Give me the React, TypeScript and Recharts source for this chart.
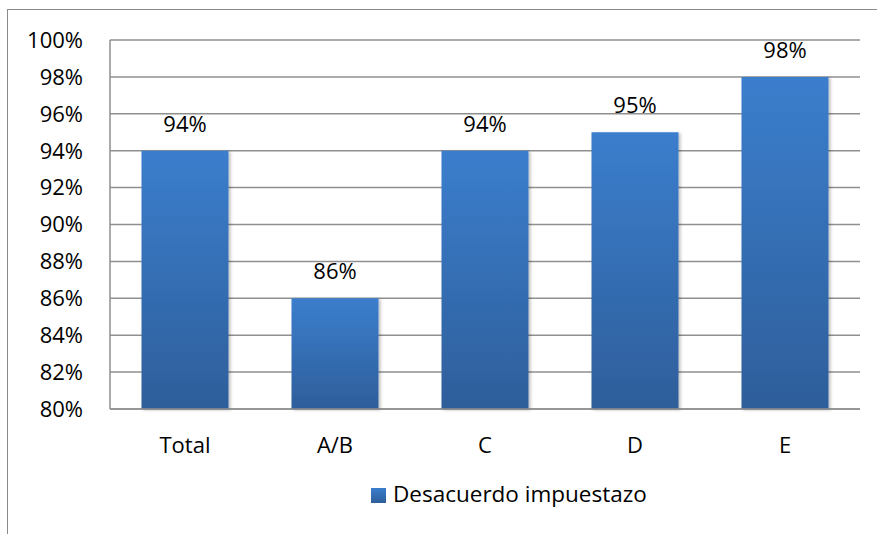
import {
  BarChart,
  Bar,
  XAxis,
  YAxis,
  CartesianGrid,
  Legend,
  LabelList,
} from "recharts";

const categories = ["Total", "A/B", "C", "D", "E"];
const desacuerdo = [94, 86, 94, 95, 98];
const yTicks = [80, 82, 84, 86, 88, 90, 92, 94, 96, 98, 100];
const seriesName = "Desacuerdo impuestazo";

const data = categories.map((cat, i) => ({ cat, value: desacuerdo[i] }));

const FONT = "'Open Sans', 'Liberation Sans', sans-serif";
const GRID = "#8f8f8f";
const pct = (v: number) => `${v}%`;

export default function App() {
  return (
    <div
      style={{
        position: "absolute",
        left: 0,
        top: 0,
        width: 877,
        height: 534,
        overflow: "hidden",
        background: "#fff",
        fontFamily: FONT,
      }}
    >
      <div
        style={{
          position: "absolute",
          left: 7,
          top: 9,
          width: 920,
          height: 600,
          border: "1.5px solid #8a8a8a",
        }}
      />
      <BarChart
        width={877}
        height={534}
        data={data}
        margin={{ top: 40, right: 17, left: 0, bottom: 34 }}
        barCategoryGap="21%"
        style={{ position: "absolute", left: 0, top: 0 }}
      >
        <defs>
          <linearGradient id="barGrad" x1="0" y1="0" x2="0" y2="1">
            <stop offset="0%" stopColor="#3b7ecd" />
            <stop offset="100%" stopColor="#2e5e9a" />
          </linearGradient>
          <filter id="barShadow" x="-10%" y="-10%" width="130%" height="130%">
            <feDropShadow dx="2" dy="1" stdDeviation="1.5" floodColor="#000" floodOpacity="0.25" />
          </filter>
        </defs>
        <CartesianGrid vertical={false} stroke={GRID} strokeWidth={1.5} />
        <XAxis
          dataKey="cat"
          height={60}
          tickLine={false}
          tickSize={0}
          tickMargin={28}
          stroke={GRID}
          strokeWidth={1.5}
          tick={{ fill: "#000", fontSize: 22, fontFamily: FONT }}
        />
        <YAxis
          width={110}
          domain={[80, 100]}
          ticks={yTicks}
          tickFormatter={pct}
          tickLine={false}
          tickSize={0}
          tickMargin={27}
          stroke={GRID}
          strokeWidth={1.5}
          interval={0}
          tick={{ fill: "#000", fontSize: 22, fontFamily: FONT }}
        />
        <Legend
          iconType="square"
          iconSize={15}
          wrapperStyle={{ top: 478, left: 371, width: "auto", fontSize: 22.5, fontFamily: FONT }}
          formatter={(v) => <span style={{ color: "#000", marginLeft: 3 }}>{v}</span>}
        />
        <Bar
          dataKey="value"
          name={seriesName}
          fill="url(#barGrad)"
          filter="url(#barShadow)"
          isAnimationActive={false}
        >
          <LabelList
            dataKey="value"
            position="top"
            offset={19}
            formatter={(v: any) => pct(v)}
            style={{ fill: "#000", fontSize: 22, fontFamily: FONT }}
          />
        </Bar>
      </BarChart>
    </div>
  );
}
